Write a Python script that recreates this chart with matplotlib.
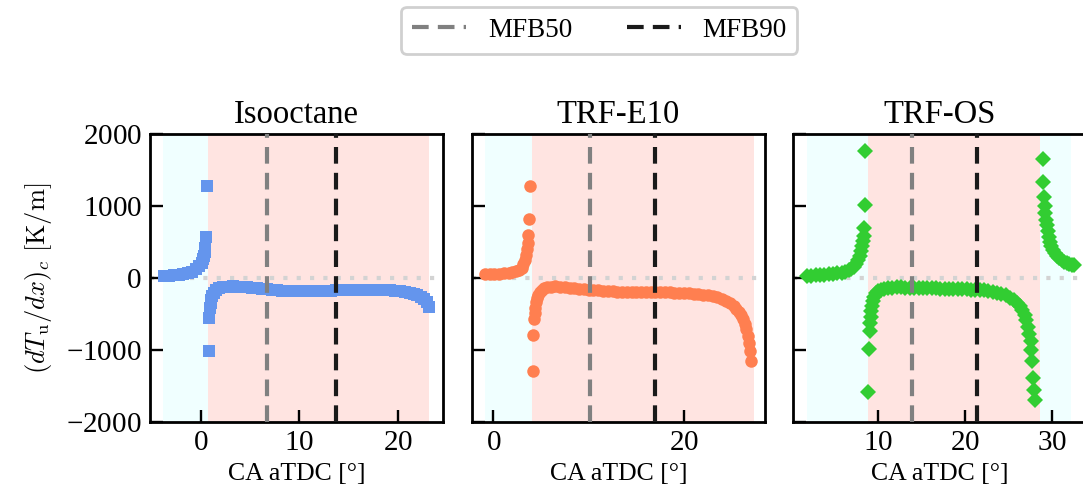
import matplotlib
matplotlib.use('Agg')
import matplotlib.pyplot as plt

# ---- data ----
titles = ['Isooctane', 'TRF-E10', 'TRF-OS']

# Isooctane (squares)
iso_x1 = [-3.8, -3.3, -2.8, -2.3, -1.8, -1.3, -0.9, -0.5, -0.2, 0.05, 0.2, 0.3, 0.38, 0.44, 0.51, 0.58]
iso_y1 = [22, 28, 35, 43, 55, 70, 90, 120, 160, 210, 260, 310, 360, 415, 572, 1283]
iso_x2 = [0.75, 0.85, 0.92, 0.98, 1.05, 1.15, 1.3, 1.5, 1.8, 2.2, 2.7, 3.2, 3.7, 4.2, 4.7, 5.2,
          5.7, 6.2, 6.7, 7.2, 7.7, 8.2, 8.7, 9.2, 9.7, 10.2, 10.7, 11.2, 11.7, 12.2, 12.7, 13.2,
          13.7, 14.2, 14.7, 15.2, 15.7, 16.2, 16.7, 17.2, 17.7, 18.2, 18.7, 19.2, 19.7, 20.2,
          20.7, 21.2, 21.6, 22.0, 22.4, 22.7, 23.0, 23.2]
iso_y2 = [-1020, -560, -420, -350, -300, -250, -205, -170, -145, -130, -120, -118, -120, -125,
          -130, -137, -145, -152, -158, -165, -170, -175, -178, -181, -183, -184, -184, -183,
          -181, -179, -177, -175, -173, -171, -169, -167, -165, -164, -163, -163, -164, -166,
          -169, -173, -178, -185, -193, -205, -218, -235, -260, -290, -340, -400]

# TRF-E10 (circles)
e10_x1 = [-0.87, -0.4, 0.1, 0.6, 1.1, 1.6, 2.0, 2.4, 2.7, 2.95, 3.15, 3.3, 3.42, 3.52, 3.58, 3.64, 3.72, 3.8]
e10_y1 = [50, 52, 55, 58, 63, 70, 80, 95, 115, 145, 190, 250, 320, 400, 480, 595, 815, 1280]
e10_x2 = [4.1, 4.18, 4.26, 4.32, 4.38, 4.45, 4.55, 4.7, 4.9, 5.1, 5.35, 5.6, 6.0, 6.5, 7.0, 7.5,
          8.0, 8.5, 9.0, 9.5, 10.0, 10.5, 11.0, 11.5, 12.0, 12.5, 13.0, 13.5, 14.0, 14.5, 15.0,
          15.5, 16.0, 16.5, 17.0, 17.5, 18.0, 18.5, 19.0, 19.5, 20.0, 20.5, 21.0, 21.5, 22.0,
          22.5, 23.0, 23.5, 24.0, 24.4, 24.8, 25.2, 25.5, 25.8, 26.0, 26.2, 26.4, 26.55, 26.7,
          26.85, 26.95, 27.05]
e10_y2 = [-1290, -785, -570, -480, -410, -340, -280, -230, -190, -165, -145, -130, -120, -118,
          -120, -125, -132, -140, -148, -155, -162, -168, -173, -178, -182, -185, -188, -190,
          -191, -192, -192, -193, -193, -194, -195, -196, -198, -200, -202, -205, -208, -212,
          -217, -223, -230, -240, -253, -270, -292, -315, -345, -385, -425, -475, -520, -575,
          -640, -710, -800, -900, -1010, -1150]

# TRF-OS (diamonds)
os_x1 = [1.9, 2.4, 2.9, 3.4, 3.9, 4.4, 4.9, 5.4, 5.9, 6.3, 6.7, 7.0, 7.3, 7.55, 7.75, 7.95,
         8.1, 8.22, 8.32, 8.4, 8.47, 8.52, 8.6]
os_y1 = [28, 32, 36, 40, 45, 50, 56, 64, 75, 88, 105, 125, 155, 195, 245, 305, 370, 440, 510,
         580, 700, 1015, 1760]
os_x2 = [8.93, 9.03, 9.1, 9.15, 9.2, 9.27, 9.35, 9.45, 9.6, 9.8, 10.05, 10.35, 10.7, 11.2, 11.7,
         12.2, 12.7, 13.2, 13.7, 14.2, 14.7, 15.2, 15.7, 16.2, 16.7, 17.2, 17.7, 18.2, 18.7, 19.2,
         19.7, 20.2, 20.7, 21.2, 21.7, 22.2, 22.7, 23.2, 23.7, 24.2, 24.7, 25.2, 25.6, 26.0, 26.3,
         26.6, 26.85, 27.05, 27.25, 27.4, 27.55, 27.65, 27.75, 27.85, 27.95, 28.0]
os_y2 = [-1590, -985, -730, -620, -540, -460, -390, -320, -260, -215, -185, -165, -150, -138,
         -132, -130, -131, -132, -133, -134, -136, -138, -140, -142, -144, -146, -148, -150, -152,
         -154, -156, -158, -161, -164, -168, -173, -180, -190, -203, -220, -243, -272, -305, -350,
         -395, -450, -520, -590, -680, -780, -880, -1000, -1150, -1390, -1560, -1690]
os_x3 = [28.97, 29.02, 29.07, 29.15, 29.25, 29.35, 29.45, 29.55, 29.65, 29.78, 29.92, 30.1, 30.3,
         30.55, 30.8, 31.1, 31.4, 31.7, 32.0, 32.3, 32.55]
os_y3 = [1650, 1340, 1130, 1000, 900, 810, 730, 650, 575, 505, 445, 390, 345, 305, 272, 245,
         225, 208, 195, 185, 175]

# shaded regions (cyan = outside, pink = between the singular points)
cyan_spans = [[(-3.83, 0.74)], [(-0.88, 4.04)], [(1.87, 8.85), (28.59, 32.2)]]
pink_spans = [(0.74, 23.2), (4.04, 27.3), (8.85, 28.59)]
mfb50 = [6.7, 10.1, 13.96]
mfb90 = [13.7, 17.0, 21.45]
xlims = [(-5.2, 24.6), (-2.25, 28.5), (0.3, 33.9)]
xticks = [[0, 10, 20], [0, 20], [10, 20, 30]]

series = [
    ([(iso_x1, iso_y1), (iso_x2, iso_y2)], 's', 'cornflowerblue', 8.5),
    ([(e10_x1, e10_y1), (e10_x2, e10_y2)], 'o', 'coral', 9),
    ([(os_x1, os_y1), (os_x2, os_y2), (os_x3, os_y3)], 'D', 'limegreen', 8.3),
]

plt.rcParams['font.family'] = ['Liberation Serif', 'DejaVu Serif']
plt.rcParams['mathtext.fontset'] = 'cm'
plt.rcParams['axes.formatter.use_mathtext'] = True
plt.rcParams['axes.unicode_minus'] = True

fig = plt.figure(figsize=(10.83, 5.0), dpi=100)
lefts = [150, 472, 793]
axes = []
for i in range(3):
    ax = fig.add_axes([lefts[i] / 1083, 78 / 500, 293 / 1083, 288 / 500])
    axes.append(ax)

    for a, b in cyan_spans[i]:
        ax.axvspan(a, b, color='azure', lw=0, zorder=0)
    ax.axvspan(pink_spans[i][0], pink_spans[i][1], color='mistyrose', lw=0, zorder=0)
    ax.axhline(0, color='lightgray', lw=3, dashes=(1, 2.2), zorder=1)

    branches, mk, col, ms = series[i]
    for bx, by in branches:
        ax.plot(bx, by, ls='none', marker=mk, ms=ms, mew=0, color=col, zorder=2)

    l50 = ax.axvline(mfb50[i], color='grey', lw=3, dashes=(4, 2.2), zorder=3, label='MFB50')
    l90 = ax.axvline(mfb90[i], color='#1a1a1a', lw=3, dashes=(4, 2.2), zorder=3, label='MFB90')

    ax.set_xlim(*xlims[i])
    ax.set_ylim(-2000, 2000)
    ax.set_xticks(xticks[i])
    ax.set_yticks([-2000, -1000, 0, 1000, 2000])
    ax.tick_params(direction='in', length=9, width=1.7, labelsize=21, pad=6)
    if i > 0:
        ax.tick_params(labelleft=False)
    for s in ax.spines.values():
        s.set_linewidth(2.0)
    ax.set_title(titles[i], fontsize=23.5, pad=8)
    ax.set_xlabel('CA aTDC [°]', fontsize=18.5, labelpad=5)

axes[0].set_ylabel(r'$(dT_\mathrm{u}/dx)_c\ [\mathrm{K/m}]$', fontsize=19, labelpad=9)

leg = fig.legend(handles=[l50, l90], loc='upper center', bbox_to_anchor=(0.5535, 0.986),
                 ncol=2, fontsize=19.5, borderaxespad=0, fancybox=True, framealpha=1,
                 edgecolor='#d0d0d0')
leg.get_frame().set_linewidth(2)

plt.savefig('out.png', dpi=100)
